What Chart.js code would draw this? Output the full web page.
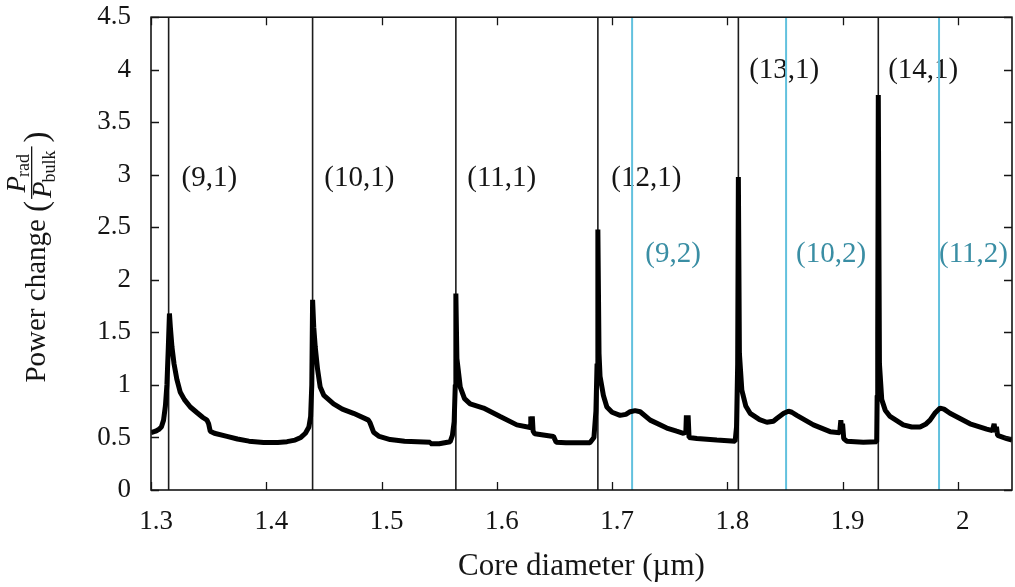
<!DOCTYPE html>
<html>
<head>
<meta charset="utf-8">
<script src="https://cdn.jsdelivr.net/npm/chart.js@4.4.1/dist/chart.umd.min.js"></script>
<style>
  html, body { margin: 0; padding: 0; background: #fff; }
  #wrap { width: 1015px; height: 587px; }
</style>
</head>
<body>
<div id="wrap"><canvas id="chart" width="1015" height="587"></canvas></div>
<script>
// power change curve
const curveX = [
  1.300, 1.304, 1.3066, 1.309, 1.3109, 1.3125, 1.3138, 1.3150, 1.3160, 1.3168, 1.3182, 1.320, 1.3225, 1.3254,
  1.329, 1.3341, 1.340, 1.345, 1.3486, 1.3500, 1.3514, 1.355, 1.3659, 1.375, 1.385, 1.3977, 1.410, 1.4180,
  1.425, 1.4300, 1.4340, 1.4370, 1.4385, 1.4395, 1.4402, 1.4412, 1.4425, 1.4445, 1.4468, 1.450, 1.4584, 1.466,
  1.4757, 1.4887, 1.490, 1.4931, 1.498, 1.5075, 1.520, 1.5422, 1.5425, 1.550, 1.5596, 1.5615, 1.5630, 1.5640,
  1.5645, 1.5654, 1.5683, 1.572, 1.5769, 1.5885, 1.6029, 1.6174, 1.6290, 1.6295, 1.6302, 1.6308, 1.6315, 1.6330,
  1.6492, 1.6515, 1.660, 1.6808, 1.6843, 1.6860, 1.6870, 1.6877, 1.6887, 1.6896, 1.6925, 1.6955, 1.700, 1.7070,
  1.712, 1.7157, 1.720, 1.7244, 1.7331, 1.7475, 1.7560, 1.7619, 1.7640, 1.7645, 1.7652, 1.7660, 1.7668, 1.7736,
  1.7909, 1.8068, 1.8080, 1.8090, 1.8096, 1.8105, 1.8126, 1.8160, 1.8198, 1.8280, 1.8343, 1.8400, 1.8429, 1.8490,
  1.8530, 1.8560, 1.8603, 1.8747, 1.8892, 1.8975, 1.8985, 1.8993, 1.9000, 1.9010, 1.9036, 1.9180, 1.9296, 1.9300,
  1.9305, 1.9310, 1.9320, 1.9340, 1.9370, 1.9412, 1.9527, 1.9600, 1.9672, 1.9720, 1.9759, 1.9800, 1.9846, 1.9880,
  1.9932, 2.0106, 2.0250, 2.0300, 2.0315, 2.0325, 2.0335, 2.0345, 2.0424, 2.0470
];
const curveY = [
  0.545, 0.56, 0.575, 0.60, 0.665, 0.80, 1.00, 1.35, 1.68, 1.55, 1.36, 1.20, 1.05, 0.93,
  0.86, 0.79, 0.735, 0.69, 0.665, 0.63, 0.56, 0.54, 0.51, 0.485, 0.465, 0.452, 0.452, 0.46,
  0.475, 0.50, 0.54, 0.60, 0.70, 1.0, 1.81, 1.55, 1.36, 1.15, 0.98, 0.90, 0.82, 0.77,
  0.73, 0.665, 0.64, 0.55, 0.51, 0.48, 0.465, 0.455, 0.44, 0.44, 0.46, 0.52, 0.65, 1.0,
  1.87, 1.25, 0.98, 0.87, 0.82, 0.78, 0.70, 0.62, 0.595, 0.70, 0.60, 0.70, 0.56, 0.535,
  0.51, 0.455, 0.45, 0.45, 0.50, 0.75, 1.2, 2.48, 1.3, 1.08, 0.90, 0.79, 0.74, 0.71,
  0.72, 0.745, 0.755, 0.745, 0.665, 0.59, 0.56, 0.54, 0.55, 0.71, 0.55, 0.71, 0.50, 0.49,
  0.475, 0.465, 0.6, 1.2, 2.98, 1.3, 0.95, 0.80, 0.73, 0.67, 0.645, 0.655, 0.68, 0.73,
  0.75, 0.74, 0.71, 0.62, 0.555, 0.545, 0.665, 0.54, 0.63, 0.49, 0.465, 0.455, 0.46, 0.9,
  1.5, 3.76, 1.2, 0.86, 0.76, 0.70, 0.62, 0.60, 0.60, 0.625, 0.665, 0.73, 0.78, 0.77,
  0.73, 0.63, 0.58, 0.565, 0.63, 0.55, 0.60, 0.52, 0.49, 0.475
];

// mode cutoff diameters
const cutoffsL1 = [1.3153, 1.4402, 1.5645, 1.6877, 1.8096, 1.9310];
const cutoffsL2 = [1.7174, 1.8510, 1.9837];

// mode labels
const labelsL1 = ['(9,1)', '(10,1)', '(11,1)', '(12,1)', '(13,1)', '(14,1)'];
const labelsL1X = [1.3265, 1.4503, 1.5744, 1.6993, 1.8190, 1.9396];
const labelsL1Y = [2.97, 2.97, 2.97, 2.97, 3.99, 3.99];
const labelsL2 = ['(9,2)', '(10,2)', '(11,2)'];
const labelsL2X = [1.7288, 1.8597, 1.9837];
const labelsL2Y = [2.24, 2.24, 2.24];

const xTicks = [1.3, 1.4, 1.5, 1.6, 1.7, 1.8, 1.9, 2.0];
const yTicks = [0, 0.5, 1, 1.5, 2, 2.5, 3, 3.5, 4, 4.5];

const X_MIN = 1.3, X_MAX = 2.047, Y_MIN = 0, Y_MAX = 4.5;

const SERIF = '"Liberation Serif", "Times New Roman", serif';
const INK = '#151515';
const CYAN_LINE = '#62c1de';
const CYAN_TEXT = '#3a8ea4';

const fmt = v => String(+v.toFixed(2));

function vline(x, color, width) {
  return {
    data: [{ x: x, y: Y_MIN }, { x: x, y: Y_MAX }],
    borderColor: color,
    borderWidth: width,
    pointRadius: 0,
    fill: false
  };
}

const datasets = [
  {
    data: curveX.map((x, i) => ({ x: x, y: curveY[i] })),
    borderColor: '#000',
    borderWidth: 5,
    borderJoinStyle: 'bevel',
    pointRadius: 0,
    tension: 0,
    fill: false
  },
  ...cutoffsL1.map(x => vline(x, '#1c1c1c', 1.6)),
  ...cutoffsL2.map(x => vline(x, CYAN_LINE, 2))
];

// frame + inward ticks on all four sides
const frameTicks = {
  id: 'frameTicks',
  afterDatasetsDraw(chart) {
    const { ctx, chartArea: a, scales } = chart;
    const tl = 8;
    ctx.save();
    ctx.strokeStyle = INK;
    ctx.lineWidth = 1.3;
    ctx.beginPath();
    xTicks.forEach(v => {
      const px = Math.round(scales.x.getPixelForValue(v)) + 0.5;
      ctx.moveTo(px, a.bottom); ctx.lineTo(px, a.bottom - tl);
      ctx.moveTo(px, a.top); ctx.lineTo(px, a.top + tl);
    });
    yTicks.forEach(v => {
      const py = Math.round(scales.y.getPixelForValue(v)) + 0.5;
      ctx.moveTo(a.left, py); ctx.lineTo(a.left + tl, py);
      ctx.moveTo(a.right, py); ctx.lineTo(a.right - tl, py);
    });
    ctx.stroke();
    ctx.lineWidth = 1.6;
    ctx.strokeRect(a.left, a.top, a.right - a.left, a.bottom - a.top);
    ctx.restore();
  }
};

// mode labels sit under the lines
const modeLabels = {
  id: 'modeLabels',
  beforeDatasetsDraw(chart) {
    const { ctx, scales } = chart;
    ctx.save();
    ctx.font = '29px ' + SERIF;
    ctx.textAlign = 'left';
    ctx.textBaseline = 'middle';
    ctx.fillStyle = INK;
    labelsL1.forEach((t, i) => {
      ctx.fillText(t, scales.x.getPixelForValue(labelsL1X[i]), scales.y.getPixelForValue(labelsL1Y[i]));
    });
    ctx.fillStyle = CYAN_TEXT;
    labelsL2.forEach((t, i) => {
      ctx.fillText(t, scales.x.getPixelForValue(labelsL2X[i]), scales.y.getPixelForValue(labelsL2Y[i]));
    });
    ctx.restore();
  }
};

// axis titles, the y one has a little fraction in it
const axisTitles = {
  id: 'axisTitles',
  afterDraw(chart) {
    const { ctx, chartArea: a } = chart;
    ctx.save();
    ctx.fillStyle = INK;
    ctx.font = '31px ' + SERIF;
    ctx.textAlign = 'center';
    ctx.textBaseline = 'middle';
    ctx.fillText('Core diameter (\u00b5m)', (a.left + a.right) / 2, 567);
    ctx.restore();

    ctx.save();
    ctx.fillStyle = INK;
    ctx.translate(45, 257);
    ctx.rotate(-Math.PI / 2);
    ctx.textBaseline = 'alphabetic';
    ctx.textAlign = 'left';
    const main = '29px ' + SERIF;
    const paren = '33px ' + SERIF;
    const ital = 'italic 27px ' + SERIF;
    const sub = '18px ' + SERIF;
    ctx.font = main; const w1 = ctx.measureText('Power change ').width;
    ctx.font = paren; const wp = ctx.measureText('(').width;
    ctx.font = ital; const wP = ctx.measureText('P').width;
    ctx.font = sub;
    const wRad = ctx.measureText('rad').width;
    const wBulk = ctx.measureText('bulk').width;
    const fracW = wP + Math.max(wRad, wBulk) + 4;
    const total = w1 + wp + fracW + 6 + wp;
    let x = -total / 2;
    ctx.font = main; ctx.fillText('Power change ', x, 0); x += w1;
    ctx.font = paren; ctx.fillText('(', x, 2); x += wp + 2;
    const numX = x + (fracW - (wP + wRad)) / 2;
    ctx.font = ital; ctx.fillText('P', numX, -20);
    ctx.font = sub; ctx.fillText('rad', numX + wP - 1, -16);
    ctx.fillRect(x, -14, fracW, 1.3);
    ctx.font = ital; ctx.fillText('P', x + 1, 6);
    ctx.font = sub; ctx.fillText('bulk', x + wP, 10);
    x += fracW + 4;
    ctx.font = paren; ctx.fillText(')', x, 2);
    ctx.restore();
  }
};

// tick marks come from frameTicks; the library's own ticks are kept
// invisible so that they only push the labels away from the axis
const hiddenGrid = tl => ({ display: true, drawOnChartArea: false, drawTicks: true, tickLength: tl, color: 'rgba(0,0,0,0)' });

new Chart(document.getElementById('chart'), {
  type: 'line',
  data: { datasets },
  options: {
    responsive: false,
    animation: false,
    layout: { autoPadding: false, padding: { left: 0, right: 3, top: 17, bottom: 0 } },
    plugins: { legend: { display: false }, tooltip: { enabled: false } },
    scales: {
      x: {
        type: 'linear',
        min: X_MIN,
        max: X_MAX,
        grid: hiddenGrid(14),
        border: { display: false },
        afterBuildTicks: s => { s.ticks = xTicks.map(v => ({ value: v })); },
        afterFit: s => { s.height = 97; },
        ticks: {
          font: { family: SERIF, size: 27 },
          color: INK,
          padding: 2,
          labelOffset: 5,
          maxRotation: 0,
          autoSkip: false,
          callback: v => fmt(v)
        }
      },
      y: {
        type: 'linear',
        min: Y_MIN,
        max: Y_MAX,
        grid: hiddenGrid(19),
        border: { display: false },
        afterBuildTicks: s => { s.ticks = yTicks.map(v => ({ value: v })); },
        afterFit: s => { s.width = 151; },
        ticks: {
          font: { family: SERIF, size: 27 },
          color: INK,
          padding: 1,
          autoSkip: false,
          callback: v => fmt(v)
        }
      }
    }
  },
  plugins: [frameTicks, modeLabels, axisTitles]
});
</script>
</body>
</html>
